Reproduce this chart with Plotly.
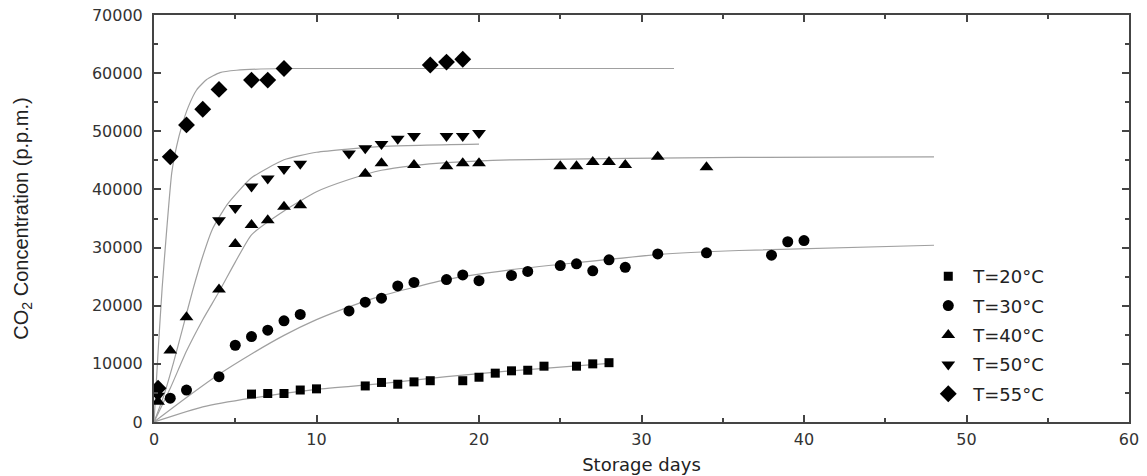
import plotly.graph_objects as go

# ---- measured data (storage days, CO2 ppm) ----
d20 = [6, 7, 8, 9, 10, 13, 14, 15, 16, 17, 19, 20, 21, 22, 23, 24, 26, 27, 28]
c20 = [4800, 4900, 4900, 5500, 5700, 6200, 6800, 6500, 6900, 7100, 7100, 7700, 8400, 8800, 8900, 9600, 9600, 10000, 10200]

d30 = [1, 2, 4, 5, 6, 7, 8, 9, 12, 13, 14, 15, 16, 18, 19, 20, 22, 23, 25, 26, 27, 28, 29, 31, 34, 38, 39, 40]
c30 = [4100, 5500, 7800, 13200, 14700, 15800, 17400, 18500, 19100, 20600, 21300, 23400, 24000, 24500, 25300, 24300,
       25200, 25900, 26900, 27200, 26000, 27900, 26600, 28900, 29100, 28700, 31000, 31200]

d40 = [0.25, 1, 2, 4, 5, 6, 7, 8, 9, 13, 14, 16, 18, 19, 20, 25, 26, 27, 28, 29, 31, 34]
c40 = [3500, 12300, 18000, 22800, 30600, 33900, 34700, 37000, 37300, 42700, 44500, 44200, 44000, 44500, 44500,
       44000, 44000, 44700, 44700, 44200, 45600, 43800]

d50 = [0.25, 4, 5, 6, 7, 8, 9, 12, 13, 14, 15, 16, 18, 19, 20]
c50 = [4500, 34700, 36800, 40500, 41900, 43500, 44400, 46200, 47100, 47800, 48700, 49200, 49200, 49200, 49700]

d55 = [0.25, 1, 2, 3, 4, 6, 7, 8, 17, 18, 19]
c55 = [5800, 45600, 51100, 53800, 57200, 58800, 58800, 60800, 61400, 61900, 62400]

# ---- fitted curves ----
fx20 = [0, 3, 6, 10, 14, 18, 22, 28]
fy20 = [0, 2600, 4100, 5600, 6600, 7800, 8800, 10100]

fx30 = [0, 2, 4, 6, 8, 10, 12, 14, 18, 22, 26, 31, 36, 48]
fy30 = [0, 4200, 8200, 11700, 14900, 17600, 19800, 21700, 24500, 26200, 27400, 28800, 29500, 30400]

fx40 = [0, 1, 2, 3, 4, 5, 6, 8, 10, 12, 14, 16, 18, 22, 36, 48]
fy40 = [0, 5800, 12200, 17600, 22400, 27500, 32200, 36300, 39600, 41700, 43300, 44100, 44600, 45100, 45500, 45600]

fx50 = [0, 0.6, 1.2, 1.8, 2.4, 3, 3.6, 4.5, 6, 8, 10, 14, 20]
fy50 = [0, 4500, 10200, 16500, 22800, 28500, 33200, 37400, 42000, 45100, 46400, 47400, 47800]

fx55 = [0, 0.25, 0.5, 0.78, 1.09, 1.39, 1.7, 2.11, 2.62, 3.24, 4.06, 5.08, 8, 32]
fy55 = [0, 12000, 23000, 33000, 42800, 47400, 50800, 54200, 57100, 58900, 60100, 60500, 60800, 60800]

series = [
    ("T=20°C", d20, c20, "square", 9),
    ("T=30°C", d30, c30, "circle", 11),
    ("T=40°C", d40, c40, "triangle-up", 12),
    ("T=50°C", d50, c50, "triangle-down", 12),
    ("T=55°C", d55, c55, "diamond", 13),
]
fits = [(fx20, fy20), (fx30, fy30), (fx40, fy40), (fx50, fy50), (fx55, fy55)]

TICKFONT = "DejaVu Sans, Liberation Sans, Arial, sans-serif"
TEXTFONT = "Liberation Sans, Arial, sans-serif"

fig = go.Figure()
for fx, fy in fits:
    fig.add_trace(go.Scatter(x=fx, y=fy, mode="lines",
                             line=dict(color="#a0a0a0", width=1.2, shape="spline", smoothing=0.5),
                             showlegend=False, hoverinfo="skip"))
for i, (name, xs, ys, sym, sz) in enumerate(series):
    fig.add_trace(go.Scatter(x=xs, y=ys, mode="markers", name=name, legendgroup=f"g{i}",
                             marker=dict(symbol=sym, size=sz, color="black", line=dict(width=0))))

axis_common = dict(showline=True, linecolor="#444", linewidth=2, mirror="allticks", ticks="inside",
                   ticklen=7, tickwidth=1.5, tickcolor="#444", showgrid=False, zeroline=False,
                   automargin=False, tickformat="d", ticklabeloverflow="allow",
                   tickfont=dict(family=TICKFONT, size=16, color="#333"))
fig.update_xaxes(range=[0, 60], dtick=10, minor=dict(dtick=5, ticks="inside", ticklen=4, tickcolor="#444"),
                 ticklabelstandoff=2,
                 title=dict(text="Storage days", font=dict(family=TICKFONT, size=18, color="#222"), standoff=10),
                 **axis_common)
fig.update_yaxes(range=[0, 70000], dtick=10000, minor=dict(dtick=5000, ticks="inside", ticklen=4, tickcolor="#444"),
                 ticklabelstandoff=6,
                 title=dict(text="CO<sub>2</sub> Concentration (p.p.m.)", font=dict(family=TEXTFONT, size=20, color="#222"), standoff=58),
                 **axis_common)

fig.update_layout(
    width=1147, height=476,
    margin=dict(l=154, r=18, t=15, b=54),
    plot_bgcolor="white", paper_bgcolor="white",
    legend=dict(x=0.789, y=0.403, xanchor="left", yanchor="top", traceorder="grouped", tracegroupgap=3,
                itemwidth=40,
                font=dict(family=TICKFONT, size=18, color="#222"),
                bgcolor="rgba(0,0,0,0)"),
)
fig.write_html("out.html", config={"displayModeBar": False},
               post_script="document.body.style.margin='0';")
